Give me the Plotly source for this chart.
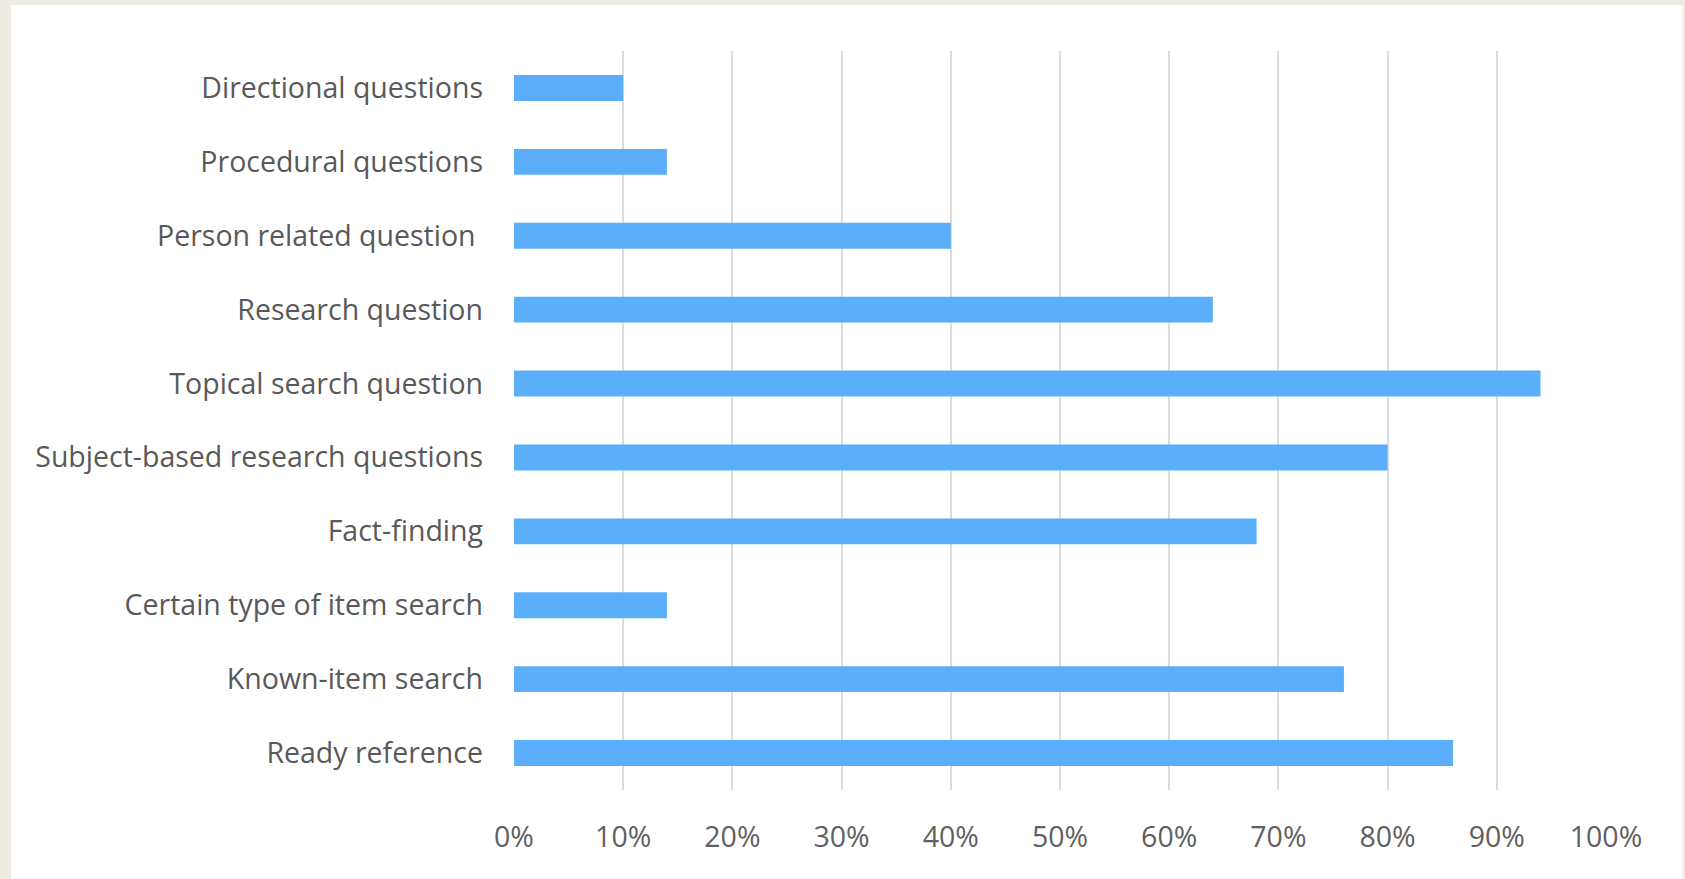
import plotly.graph_objects as go

categories = [
    "Directional questions",
    "Procedural questions",
    "Person related question\u00a0",
    "Research question",
    "Topical search question",
    "Subject-based research questions",
    "Fact-finding",
    "Certain type of item search",
    "Known-item search",
    "Ready reference",
]
values = [0.10, 0.14, 0.40, 0.64, 0.94, 0.80, 0.68, 0.14, 0.76, 0.86]
tick_vals = [i / 10 for i in range(11)]
tick_text = [f"{i * 10}%" for i in range(11)]

W, H = 1685, 879
ML, MR, MT, MB = 513.5, 78.5, 51, 89
PW, PH = W - ML - MR, H - MT - MB
FONT = "Open Sans"


def px_x(p):
    return (p - ML) / PW


def px_y(p):
    return (H - MB - p) / PH


fig = go.Figure(
    go.Bar(
        x=values,
        y=categories,
        orientation="h",
        marker=dict(color="#5AAEFA", line=dict(width=0)),
        width=0.35,
    )
)

fig.update_layout(
    width=W,
    height=H,
    paper_bgcolor="#EEEBE3",
    plot_bgcolor="rgba(0,0,0,0)",
    margin=dict(l=ML, r=MR, t=MT, b=MB),
    showlegend=False,
    font=dict(family=FONT, color="#595959", size=26),
    shapes=[
        dict(
            type="rect", xref="paper", yref="paper",
            x0=px_x(10), x1=px_x(1683),
            y0=px_y(H), y1=px_y(5),
            fillcolor="white", line=dict(width=0), layer="below",
        )
    ],
)

fig.update_xaxes(
    range=[0, 1],
    tickvals=tick_vals,
    ticktext=tick_text,
    showgrid=True,
    gridcolor="#DCDCDC",
    gridwidth=2,
    zeroline=False,
    showline=False,
    ticks="",
    ticklabelstandoff=27,
    tickfont=dict(size=28.5, color="#606060", family=FONT),
    fixedrange=True,
)
fig.update_yaxes(
    categoryorder="array",
    categoryarray=categories[::-1],
    showgrid=False,
    zeroline=False,
    showline=False,
    ticks="",
    ticklabelstandoff=30,
    tickfont=dict(size=28.5, color="#595959", family=FONT),
    fixedrange=True,
)

fig.write_html(
    "out.html",
    config={"displayModeBar": False},
    post_script="document.body.style.margin='0';document.body.style.overflow='hidden';",
)
